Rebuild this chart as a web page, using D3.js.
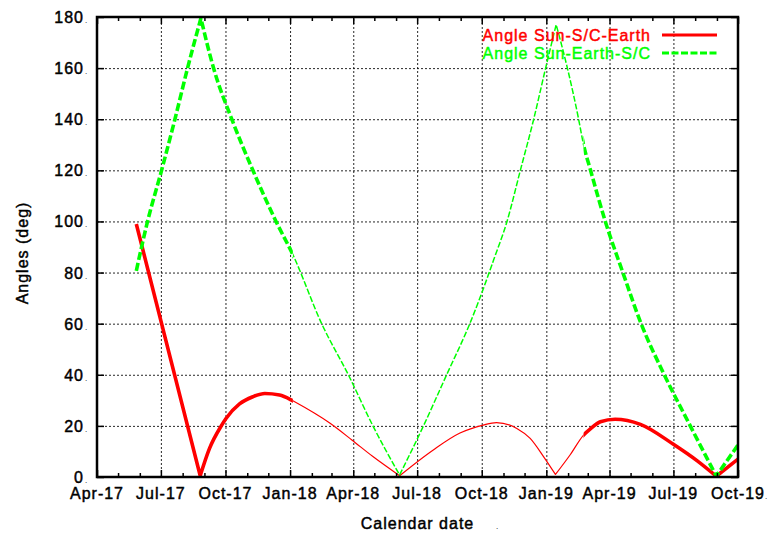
<!DOCTYPE html>
<html>
<head>
<meta charset="utf-8">
<script src="https://cdn.jsdelivr.net/npm/d3@7"></script>
<style>
  body { margin: 0; background: #fff; }
  svg { display: block; font-family: "Liberation Sans", Arial, sans-serif; }
  .lbl { font-size: 16px; letter-spacing: 1px; fill: #000; stroke: #000; stroke-width: 0.45px; }
</style>
</head>
<body>
<div id="app"></div>
<script>
// tick positions and labels
const xTickDates = ['2017-04-01', '2017-07-01', '2017-10-01', '2018-01-01', '2018-04-01', '2018-07-01',
  '2018-10-01', '2019-01-01', '2019-04-01', '2019-07-01', '2019-10-01'];
const xTickLabels = ['Apr-17', 'Jul-17', 'Oct-17', 'Jan-18', 'Apr-18', 'Jul-18',
  'Oct-18', 'Jan-19', 'Apr-19', 'Jul-19', 'Oct-19'];
const yTicks = [0, 20, 40, 60, 80, 100, 120, 140, 160, 180];

// Angle Sun-S/C-Earth
const sunScEarthDates = ['2017-05-27', '2017-08-26', '2017-09-08',
  '2017-09-25', '2017-10-02', '2017-10-21', '2017-11-09', '2017-11-26', '2017-12-17', '2018-01-01',
  '2018-01-05', '2018-02-27', '2018-03-30', '2018-04-29', '2018-06-06', '2018-07-24', '2018-08-31',
  '2018-10-03', '2018-10-22', '2018-11-20', '2018-12-09', '2018-12-28', '2019-01-14', '2019-02-04',
  '2019-02-23', '2019-03-05', '2019-03-19', '2019-04-09', '2019-05-15', '2019-07-01', '2019-08-04',
  '2019-08-31', '2019-10-01'];
const sunScEarthValues = [99, 0.5, 11,
  20, 23, 28.6, 31.4, 32.7, 32.1, 30.4,
  29.8, 21, 14.5, 8, 0.5, 10.6, 17.2,
  20.3, 21.3, 19, 15.1, 8, 1, 8.7,
  16.4, 18.9, 21.6, 22.6, 20.6, 12.8, 6.3,
  0.3, 7];

// Angle Sun-Earth-S/C
const sunEarthScDates = ['2017-05-27', '2017-06-12', '2017-07-02', '2017-07-21', '2017-08-08', '2017-08-27',
  '2017-09-14', '2017-10-10', '2017-11-09', '2017-12-12', '2018-01-05', '2018-02-15', '2018-03-25',
  '2018-04-29', '2018-06-06', '2018-07-10', '2018-08-12', '2018-09-14', '2018-09-29', '2018-10-18',
  '2018-11-06', '2018-11-25', '2018-12-14', '2018-12-31', '2019-01-15', '2019-01-31', '2019-02-16',
  '2019-02-23', '2019-03-05', '2019-03-26', '2019-04-20', '2019-05-16', '2019-06-18', '2019-07-25',
  '2019-08-31', '2019-10-01'];
const sunEarthScValues = [80.7, 100, 120, 140, 160, 179.5,
  160, 140, 120, 100, 87, 60, 40,
  20, 0.8, 20, 40, 60, 70.5, 85,
  100, 120, 140, 160, 177, 160, 140,
  130, 120, 100, 80, 60, 40, 20,
  0.4, 12.5];

// periods drawn with the heavy pen
const thickStarts = ['2017-05-01', '2019-02-23'];
const thickEnds = ['2018-01-05', '2019-10-02'];

const seriesNames = ['Angle Sun-S/C-Earth', 'Angle Sun-Earth-S/C'];
const seriesColors = ['#ff0000', '#00ff00'];

const width = 771;
const height = 537;
const plotL = 97, plotR = 738, plotT = 17, plotB = 477;

const parse = d3.timeParse('%Y-%m-%d');

const x = d3.scaleTime()
  .domain([parse('2017-04-01'), parse('2019-10-01')])
  .range([plotL, plotR]);
const y = d3.scaleLinear().domain([0, 180]).range([plotB, plotT]);

const svg = d3.create('svg')
  .attr('width', width)
  .attr('height', height)
  .attr('viewBox', [0, 0, width, height]);

const majorX = xTickDates.map(parse);
const minorX = d3.timeMonth.range(parse('2017-04-01'), parse('2019-10-02'))
  .filter((d)=>d.getMonth() % 3 !== 0);

// grid
svg.append('g')
  .attr('transform', `translate(0,${plotB})`)
  .call(d3.axisBottom(x).tickValues(majorX).tickSize(-(plotB - plotT)).tickFormat(''))
  .call((g)=>g.select('.domain').remove())
  .selectAll('line')
  .attr('stroke', '#000')
  .attr('stroke-width', 1)
  .attr('stroke-dasharray', '2,2')
  .attr('opacity', 0.85);
svg.append('g')
  .attr('transform', `translate(${plotL},0)`)
  .call(d3.axisLeft(y).tickValues(yTicks).tickSize(-(plotR - plotL)).tickFormat(''))
  .call((g)=>g.select('.domain').remove())
  .selectAll('line')
  .attr('stroke', '#000')
  .attr('stroke-width', 1)
  .attr('stroke-dasharray', '2,2')
  .attr('opacity', 0.85);

// clip regions for heavy / light pen
const defs = svg.append('defs');
const thickRanges = thickStarts.map((s, i)=>[x(parse(s)), x(parse(thickEnds[i]))]);
const thinRanges = [];
let cursor = 0;
thickRanges.forEach(([a, b])=>{
  thinRanges.push([cursor, a]);
  cursor = b;
});
thinRanges.push([cursor, width]);
[['thickClip', thickRanges], ['thinClip', thinRanges]].forEach(([id, ranges])=>{
  defs.append('clipPath').attr('id', id)
    .selectAll('rect')
    .data(ranges)
    .join('rect')
    .attr('x', (r)=>r[0])
    .attr('width', (r)=>Math.max(0, r[1] - r[0]))
    .attr('y', 0)
    .attr('height', height);
});

// series: smooth between cusps (near 0 / 180 deg), sharp at cusps
const line = d3.line()
  .x((d)=>x(d.date))
  .y((d)=>y(d.value))
  .curve(d3.curveMonotoneX);

function seriesPath(pts) {
  const parts = [];
  let start = 0;
  for (let i = 1; i < pts.length - 1; i++) {
    const v = pts[i].value;
    const ext = (v < pts[i - 1].value && v < pts[i + 1].value) || (v > pts[i - 1].value && v > pts[i + 1].value);
    if (ext && (v < 2 || v > 170)) {
      parts.push(pts.slice(start, i + 1));
      start = i;
    }
  }
  parts.push(pts.slice(start));
  return parts.map((p, k)=>{
    const d = line(p);
    return k === 0 ? d : 'L' + d.slice(1);
  }).join('');
}

const series = [
  sunScEarthDates.map((d, i)=>({date: parse(d), value: sunScEarthValues[i]})),
  sunEarthScDates.map((d, i)=>({date: parse(d), value: sunEarthScValues[i]})),
];

series.forEach((pts, si)=>{
  const d = seriesPath(pts);
  const g = svg.append('g')
    .attr('fill', 'none')
    .attr('stroke', seriesColors[si])
    .attr('stroke-linejoin', 'round');
  g.append('path')
    .attr('d', d)
    .attr('clip-path', 'url(#thinClip)')
    .attr('stroke-width', si === 0 ? 1.2 : 1.5)
    .attr('stroke-dasharray', si === 0 ? null : '6,2');
  g.append('path')
    .attr('d', d)
    .attr('clip-path', 'url(#thickClip)')
    .attr('stroke-width', 3.6)
    .attr('stroke-dasharray', si === 0 ? null : '8,3');
});

// frame
svg.append('rect')
  .attr('x', plotL)
  .attr('y', plotT)
  .attr('width', plotR - plotL)
  .attr('height', plotB - plotT)
  .attr('fill', 'none')
  .attr('stroke', '#000')
  .attr('stroke-width', 2.5);

// ticks (inward, mirrored)
function tickLines(g) {
  g.select('.domain').remove();
  g.selectAll('line').attr('stroke', '#000').attr('stroke-width', 1.5);
}
svg.append('g').attr('transform', `translate(0,${plotB})`)
  .call(d3.axisBottom(x).tickValues(majorX).tickSize(-7).tickFormat('')).call(tickLines);
svg.append('g').attr('transform', `translate(0,${plotB})`)
  .call(d3.axisBottom(x).tickValues(minorX).tickSize(-4).tickFormat('')).call(tickLines);
svg.append('g').attr('transform', `translate(0,${plotT})`)
  .call(d3.axisTop(x).tickValues(majorX).tickSize(-7).tickFormat('')).call(tickLines);
svg.append('g').attr('transform', `translate(0,${plotT})`)
  .call(d3.axisTop(x).tickValues(minorX).tickSize(-4).tickFormat('')).call(tickLines);
svg.append('g').attr('transform', `translate(${plotL},0)`)
  .call(d3.axisLeft(y).tickValues(yTicks).tickSize(-7).tickFormat('')).call(tickLines);
svg.append('g').attr('transform', `translate(${plotR},0)`)
  .call(d3.axisRight(y).tickValues(yTicks).tickSize(-7).tickFormat('')).call(tickLines);

// tick labels
svg.append('g').selectAll('text')
  .data(majorX)
  .join('text')
  .attr('class', 'lbl')
  .attr('x', (d)=>x(d))
  .attr('y', 499)
  .attr('text-anchor', 'middle')
  .text((d, i)=>xTickLabels[i]);
svg.append('text').attr('x', x(majorX[majorX.length - 1]) + 27).attr('y', 499)
  .attr('font-size', 8).text('.');

svg.append('g').selectAll('text')
  .data(yTicks)
  .join('text')
  .attr('class', 'lbl')
  .attr('x', 84)
  .attr('y', (d)=>y(d) + 6)
  .attr('text-anchor', 'end')
  .text((d)=>d);
svg.append('g').selectAll('text')
  .data(yTicks)
  .join('text')
  .attr('x', 85)
  .attr('y', (d)=>y(d) + 6)
  .attr('font-size', 8)
  .text('.');

// axis titles
svg.append('text')
  .attr('class', 'lbl')
  .attr('x', (plotL + plotR) / 2)
  .attr('y', 529)
  .attr('text-anchor', 'middle')
  .text('Calendar date');
svg.append('text').attr('x', 496).attr('y', 529).attr('font-size', 8).text('.');

svg.append('text')
  .attr('class', 'lbl')
  .attr('transform', 'translate(28,253) rotate(-90)')
  .attr('text-anchor', 'middle')
  .text('Angles (deg)');

// legend
const legend = svg.append('g');
seriesNames.forEach((name, i)=>{
  const ly = 35 + i * 18;
  legend.append('text')
    .attr('class', 'lbl')
    .attr('x', 651)
    .attr('y', ly + 6)
    .attr('text-anchor', 'end')
    .style('fill', seriesColors[i])
    .style('stroke', seriesColors[i])
    .text(name);
  legend.append('line')
    .attr('x1', 662)
    .attr('x2', 717)
    .attr('y1', ly)
    .attr('y2', ly)
    .attr('stroke', seriesColors[i])
    .attr('stroke-width', 3)
    .attr('stroke-dasharray', i === 0 ? null : '7,2.5');
});

document.getElementById('app').appendChild(svg.node());
</script>
</body>
</html>
